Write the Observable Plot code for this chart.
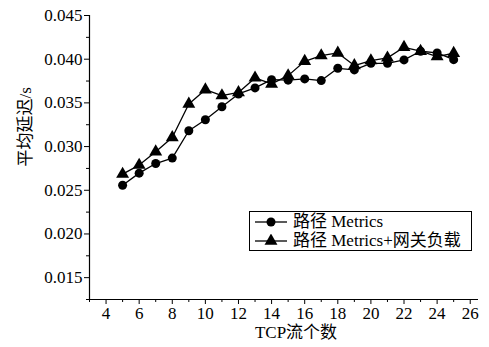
<!DOCTYPE html>
<html><head><meta charset="utf-8">
<script src="https://cdn.jsdelivr.net/npm/d3@7"></script>
<script src="https://cdn.jsdelivr.net/npm/@observablehq/plot@0.6"></script>
<style>
body{margin:0;background:#fff;}
#wrap{position:relative;width:489px;height:347px;}
#legend{position:absolute;left:249px;top:211px;width:223px;height:40px;border:1px solid #000;box-sizing:border-box;background:#fff;
 font-family:"Liberation Serif","Noto Sans CJK SC",serif;font-size:17px;line-height:19px;}
#legend .row{display:flex;align-items:center;height:19px;white-space:nowrap;}
#legend svg{margin-left:5px;margin-right:6px;}
</style></head>
<body><div id="wrap"><div id="legend"></div></div>
<script>
const flows = [5,6,7,8,9,10,11,12,13,14,15,16,17,18,19,20,21,22,23,24,25];
const metrics = [0.02558,0.02696,0.02806,0.02868,0.03181,0.03307,0.03456,0.03602,0.03671,0.03766,0.0376,0.03774,0.03755,0.03896,0.03877,0.03953,0.03953,0.03992,0.04091,0.04072,0.03995];
const metricsGw = [0.02685,0.02788,0.0294,0.03104,0.03487,0.03651,0.03583,0.0362,0.03786,0.03717,0.03812,0.03976,0.04041,0.04072,0.03927,0.03984,0.04015,0.04136,0.04091,0.0403,0.04068];
const seriesNames = ["路径 Metrics","路径 Metrics+网关负载"];
const xMajor = [4,6,8,10,12,14,16,18,20,22,24,26];
const xMinor = [3,5,7,9,11,13,15,17,19,21,23,25];
const yMajor = [0.015,0.020,0.025,0.030,0.035,0.040,0.045];
const yMinor = [0.0125,0.0175,0.0225,0.0275,0.0325,0.0375,0.0425];

const d1 = flows.map((x,i)=>({x, y:metrics[i]}));
const d2 = flows.map((x,i)=>({x, y:metricsGw[i]}));
const ff = "Liberation Serif, Noto Sans CJK SC, serif";

const chart = Plot.plot({
  width:489, height:347,
  marginLeft:89, marginRight:11, marginTop:15, marginBottom:48,
  style:{fontSize:"17px", color:"#000", background:"#fff", fontFamily:ff},
  x:{domain:[3,26.5]},
  y:{domain:[0.0125,0.045]},
  marks:[
    Plot.axisX(xMajor,{tickSize:5, tickPadding:2, label:null, fontSize:17, fontFamily:ff}),
    Plot.axisX(xMinor,{tickSize:3, tickFormat:()=>"", label:null}),
    Plot.axisY(yMajor,{tickSize:5, tickPadding:2, tickFormat:d3.format(".3f"), label:null, fontSize:17, fontFamily:ff}),
    Plot.axisY(yMinor,{tickSize:3, tickFormat:()=>"", label:null}),
    Plot.ruleX([3],{stroke:"#000", strokeWidth:1.2}),
    Plot.ruleY([0.0125],{stroke:"#000", strokeWidth:1.2}),
    Plot.text(["TCP流个数"],{frameAnchor:"bottom", dy:38, dx:12, fontSize:17, fill:"#000", fontFamily:ff}),
    Plot.text(["平均延迟/s"],{frameAnchor:"left", dx:-64, dy:9, rotate:-90, fontSize:17, fill:"#000", fontFamily:ff}),
    Plot.line(d1,{x:"x", y:"y", stroke:"#000", strokeWidth:1.3}),
    Plot.line(d2,{x:"x", y:"y", stroke:"#000", strokeWidth:1.3}),
    Plot.dot(d1,{x:"x", y:"y", r:4.5, fill:"#000", symbol:"circle"}),
    Plot.dot(d2,{x:"x", y:"y", r:4.8, fill:"#000", symbol:"triangle"})
  ]
});
document.getElementById("wrap").prepend(chart);

const leg = document.getElementById("legend");
const symbols = [d3.symbolCircle, d3.symbolTriangle];
seriesNames.forEach((name,i)=>{
  const row = document.createElement("div"); row.className="row";
  const size = Math.PI*(i?4.8:4.5)**2;
  row.innerHTML = `<svg width="32" height="14"><line x1="0" x2="32" y1="7" y2="7" stroke="#000" stroke-width="1.3"/><path transform="translate(16,7)" d="${d3.symbol(symbols[i], size)()}" fill="#000"/></svg><span>${name}</span>`;
  leg.appendChild(row);
});
</script></body></html>
